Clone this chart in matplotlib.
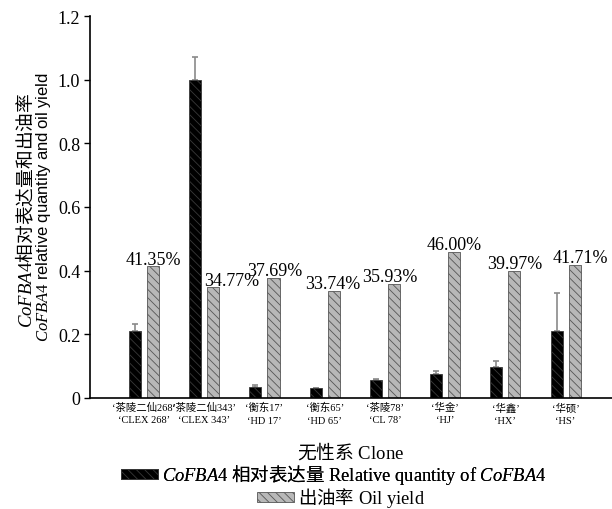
import matplotlib
matplotlib.use("Agg")
import matplotlib.pyplot as plt
import numpy as np

plt.rcParams['font.family'] = ['Liberation Serif', 'Noto Sans CJK SC']
plt.rcParams['mathtext.fontset'] = 'custom'
plt.rcParams['mathtext.it'] = 'Liberation Serif:italic'
plt.rcParams['mathtext.rm'] = 'Liberation Serif'
plt.rcParams['mathtext.sf'] = 'Noto Sans CJK SC'
plt.rcParams['mathtext.tt'] = 'Liberation Sans'
plt.rcParams['hatch.linewidth'] = 0.6

# ---- data ----
clones_cn = ['‘茶陵二仙268’', '‘茶陵二仙343’', '‘衡东17’', '‘衡东65’',
             '‘茶陵78’', '‘华金’', '‘华鑫’', '‘华硕’']
clones_en = ['‘CLEX 268’', '‘CLEX 343’', '‘HD 17’', '‘HD 65’',
             '‘CL 78’', '‘HJ’', '‘HX’', '‘HS’']
rel_quantity = [0.212, 1.000, 0.036, 0.030, 0.058, 0.075, 0.098, 0.211]
rel_err = [0.022, 0.072, 0.004, 0.002, 0.002, 0.009, 0.019, 0.120]
oil_yield_pct = [41.35, 34.77, 37.69, 33.74, 35.93, 46.00, 39.97, 41.71]
yticks = [0, 0.2, 0.4, 0.6, 0.8, 1.0, 1.2]
ytick_labels = ['0', '0.2', '0.4', '0.6', '0.8', '1.0', '1.2']

# label horizontal nudges (points)
label_dx = [0, 13, 1, -1, -3, 0, 0, 4]

fig = plt.figure(figsize=(6.12, 5.10), dpi=100)
ax = fig.add_axes([90/612, 1-399/510, 1-90/612, (399-17)/510])

x = np.arange(len(clones_en))
oil = np.array(oil_yield_pct) / 100.0
w = 0.2
off = 0.15

b1 = ax.bar(x - off, rel_quantity, w, color='black', edgecolor='#3a3a3a',
            hatch='\\\\\\\\', linewidth=0.6, zorder=2)
ax.errorbar(x - off, rel_quantity, yerr=[np.zeros(len(rel_err)), rel_err],
            fmt='none', ecolor='#8a8a8a', elinewidth=1.2, capsize=2.5,
            capthick=1.2, zorder=1)
b2 = ax.bar(x + off, oil, w, color='#b8b8b8', edgecolor='#555555',
            hatch='\\\\\\\\', linewidth=0.6, zorder=2)

for i, v in enumerate(oil_yield_pct):
    ax.annotate(f'{v:.2f}%', xy=(x[i] + off, v/100.0),
                xytext=(label_dx[i], 2), textcoords='offset points',
                ha='center', va='baseline', fontsize=13)

ax.set_xlim(-0.897, 7.77)
ax.set_ylim(0, 1.2)
ax.set_yticks(yticks)
ax.set_yticklabels(ytick_labels, fontsize=13)
ax.set_xticks(x)
ax.set_xticklabels([f'{c}\n{e}' for c, e in zip(clones_cn, clones_en)],
                   fontsize=7.5, linespacing=1.45)
ax.tick_params(axis='x', length=0, pad=3)
ax.tick_params(axis='y', direction='out', length=4, width=1, pad=3)
for s in ['top', 'right']:
    ax.spines[s].set_visible(False)
for s in ['left', 'bottom']:
    ax.spines[s].set_linewidth(1.2)

# y-axis title: two lines
fig.text(25/612, 1-210/510, r'$\mathit{CoFBA4}\mathsf{相对表达量和出油率}$',
         rotation=90, ha='center', va='center', fontsize=13.5,
         family='Liberation Serif')
fig.text(44/612, 1-207/510,
         r'$\mathit{CoFBA4}\mathtt{\ relative\ quantity\ and\ oil\ yield}$',
         rotation=90, ha='center', va='center', fontsize=12,
         family='Liberation Serif')

fig.text(351/612, 1-452/510, r'$\mathsf{无性系}$ Clone', ha='center',
         va='center', fontsize=13.5, family='Liberation Serif')

lab1 = r'$\mathit{CoFBA4}$ $\mathsf{相对表达量}$ Relative quantity of $\mathit{CoFBA4}$'
lab2 = r'$\mathsf{出油率}$ Oil yield'
lp = {'family': 'Liberation Serif', 'size': 13.3}
leg1 = fig.legend([b1], [lab1], loc='center',
                  bbox_to_anchor=(334/612, 1-475.5/510), frameon=False,
                  prop=lp, handlelength=2.0, handleheight=0.45,
                  handletextpad=0.2, borderpad=0, borderaxespad=0)
leg2 = fig.legend([b2], [lab2], loc='center',
                  bbox_to_anchor=(341/612, 1-498.5/510), frameon=False,
                  prop=lp, handlelength=2.0, handleheight=0.45,
                  handletextpad=0.2, borderpad=0, borderaxespad=0)
fig.add_artist(leg1)

fig.savefig('out.png', dpi=100)
